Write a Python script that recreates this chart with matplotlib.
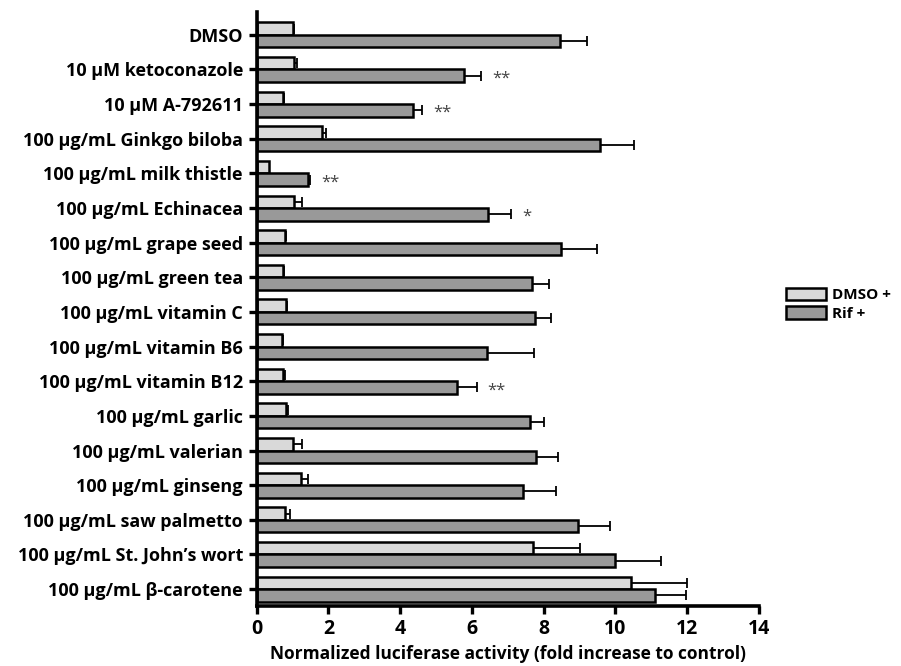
import numpy as np
import matplotlib.pyplot as plt

plt.rcParams['font.family'] = ['Open Sans', 'DejaVu Sans']
plt.rcParams['font.weight'] = 'bold'

# Dati
labels = ['DMSO', '10 µM ketoconazole', '10 µM A-792611',
          '100 µg/mL Ginkgo biloba', '100 µg/mL milk thistle',
          '100 µg/mL Echinacea', '100 µg/mL grape seed',
          '100 µg/mL green tea', '100 µg/mL vitamin C',
          '100 µg/mL vitamin B6', '100 µg/mL vitamin B12',
          '100 µg/mL garlic', '100 µg/mL valerian', '100 µg/mL ginseng',
          '100 µg/mL saw palmetto', '100 µg/mL St. John\u2019s wort',
          '100 µg/mL β-carotene']
dmso = [1.00, 1.05, 0.73, 1.82, 0.35, 1.05, 0.79, 0.72, 0.81, 0.70, 0.74,
        0.82, 1.02, 1.23, 0.79, 7.70, 10.43]
dmso_err = [0.05, 0.07, 0.04, 0.12, 0.0, 0.21, 0.03, 0.05, 0.03, 0.03, 0.04,
            0.06, 0.24, 0.19, 0.14, 1.31, 1.57]
rif = [8.45, 5.77, 4.35, 9.57, 1.44, 6.45, 8.49, 7.69, 7.75, 6.42, 5.59,
       7.61, 7.79, 7.43, 8.96, 9.98, 11.12]
rif_err = [0.75, 0.49, 0.26, 0.95, 0.05, 0.65, 1.01, 0.46, 0.47, 1.32, 0.54,
           0.40, 0.61, 0.93, 0.89, 1.30, 0.84]
stars = ['', '**', '**', '', '**', '*', '', '', '', '', '**',
         '', '', '', '', '', '']

y = np.arange(len(labels))
h = 0.36

fig = plt.figure(figsize=(9.01, 6.66), dpi=100)
ax = fig.add_axes([0.285, 0.090, 0.557, 0.892])

ax.barh(y - h / 2, dmso, height=h, color='#d9d9d9', edgecolor='black',
        linewidth=1.8, label='DMSO +', zorder=2)
ax.barh(y + h / 2, rif, height=h, color='#999999', edgecolor='black',
        linewidth=1.8, label='Rif +', zorder=2)
# barre di errore solo verso destra
ax.errorbar(dmso, y - h / 2, xerr=[np.zeros(len(y)), dmso_err], fmt='none',
            ecolor='black', elinewidth=1.3, capsize=3.5, capthick=1.3, zorder=1)
ax.errorbar(rif, y + h / 2, xerr=[np.zeros(len(y)), rif_err], fmt='none',
            ecolor='black', elinewidth=1.3, capsize=3.5, capthick=1.3, zorder=1)

for i, s in enumerate(stars):
    if s:
        ax.text(rif[i] + rif_err[i] + 0.3, y[i] + h / 2 + 0.08, s,
                ha='left', va='center', fontsize=12, fontweight='normal',
                color='#444444')

ax.set_yticks(y)
ax.set_yticklabels(labels, fontsize=13)
ax.set_ylim(16.49, -0.66)
ax.set_xlim(0, 14)
ax.set_xticks(range(0, 15, 2))
ax.tick_params(axis='x', labelsize=14, width=2.4, length=6)
ax.tick_params(axis='y', width=2.4, length=6, pad=4)
ax.set_xlabel('Normalized luciferase activity (fold increase to control)',
              fontsize=12.5, fontweight='bold', labelpad=4)

for side in ['top', 'right']:
    ax.spines[side].set_visible(False)
for side in ['left', 'bottom']:
    ax.spines[side].set_linewidth(2.6)

ax.legend(loc='center left', bbox_to_anchor=(1.055, 0.508), frameon=False,
          handlelength=2.6, handleheight=0.9, fontsize=11,
          handletextpad=0.4, borderaxespad=0, borderpad=0,
          labelspacing=0.25)

plt.savefig('out.png', dpi=100)
